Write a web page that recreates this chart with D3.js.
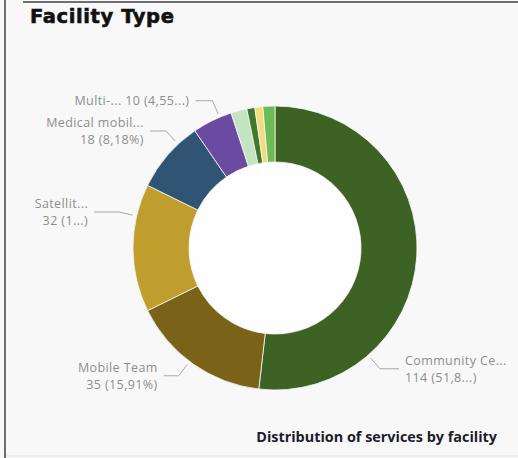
<!DOCTYPE html>
<html>
<head>
<meta charset="utf-8">
<script src="https://cdn.jsdelivr.net/npm/d3@7"></script>
<style>
  html, body { margin: 0; padding: 0; background: #f8f8f8; }
  svg { display: block; }
</style>
</head>
<body>
<svg id="chart" width="518" height="458"></svg>
<script>
// Services by facility type
const categories = [
  "Community Centre", "Mobile Team", "Satellite Clinic", "Medical mobile unit",
  "Multi-purpose Centre", "Health Post", "Outreach Site", "School", "Home Visit"
];
const values = [114, 35, 32, 18, 10, 4, 2, 2, 3];
const colors = [
  "#3d6324", "#7a6318", "#bf9e2e", "#2f5474",
  "#6b4aa2", "#c4e3c1", "#3f7a2c", "#f2dc7e", "#6cbb55"
];
// Names as shown beside the ring (long names are clipped)
const labelNames = ["Community Ce...", "Mobile Team", "Satellit...", "Medical mobil...", "Multi-..."];
// Characters kept from the "value (percent)" text before the ellipsis; null keeps it whole
const valueKeep = [9, null, 5, null, 8];

// Label placement: attach angle on the ring (degrees, clockwise from top), horizontal leader length
const labelLayout = [
  { angle: 139, hlen: 19, single: false },
  { angle: 217, hlen: 15, single: false },
  { angle: 283, hlen: 25, single: false },
  { angle: 317, hlen: 16, single: false },
  { angle: 337, hlen: 17, single: true }
];

const svg = d3.select("#chart");
const W = 518, H = 458;
const cx = 275, cy = 248, rOuter = 142, rInner = 86;

// Panel frame
svg.append("rect").attr("x", 0).attr("y", 0).attr("width", W).attr("height", H).attr("fill", "#f8f8f8");
svg.append("line").attr("x1", 5).attr("x2", 5).attr("y1", 0).attr("y2", H)
  .attr("stroke", "#6e6e6e").attr("stroke-width", 2);
svg.append("line").attr("x1", 23).attr("x2", W).attr("y1", 2).attr("y2", 2)
  .attr("stroke", "#6e6e6e").attr("stroke-width", 2);
svg.append("line").attr("x1", 6).attr("x2", W).attr("y1", 456).attr("y2", 456)
  .attr("stroke", "#e2e2e2").attr("stroke-width", 1);

// Title
svg.append("text")
  .attr("x", 30).attr("y", 23)
  .attr("font-family", "'DejaVu Sans', sans-serif")
  .attr("font-weight", "bold")
  .attr("font-size", 19.5)
  .attr("letter-spacing", 0.6)
  .attr("fill", "#111")
  .attr("stroke", "#111")
  .attr("stroke-width", 0.6)
  .text("Facility Type");

const total = d3.sum(values);
const pie = d3.pie().sort(null).value(d => d)(values);
const arc = d3.arc().innerRadius(rInner).outerRadius(rOuter);

const g = svg.append("g").attr("transform", `translate(${cx},${cy})`);
g.append("circle").attr("r", rInner).attr("fill", "#fefefe");
g.selectAll("path.slice")
  .data(pie)
  .join("path")
  .attr("class", "slice")
  .attr("d", arc)
  .attr("fill", (d, i) => colors[i])
  .attr("stroke", "#f8f8f8")
  .attr("stroke-width", 0.8);

// Data labels with leader lines
const pctText = v => (v / total * 100).toFixed(2).replace(".", ",") + "%";
const polar = (deg, r) => {
  const a = deg * Math.PI / 180;
  return [cx + r * Math.sin(a), cy - r * Math.cos(a)];
};

const labelFont = "'Open Sans', 'Segoe UI', sans-serif";
labelLayout.forEach((L, i) => {
  const p0 = polar(L.angle, rOuter + 4);
  const p1 = polar(L.angle, rOuter + 18);
  const right = p1[0] > cx;
  const p2 = [p1[0] + (right ? L.hlen : -L.hlen), p1[1]];
  svg.append("polyline")
    .attr("points", [p0, p1, p2].map(p => p.join(",")).join(" "))
    .attr("fill", "none")
    .attr("stroke", "#a9a9a9")
    .attr("stroke-width", 1);

  let vt = `${values[i]} (${pctText(values[i])})`;
  if (valueKeep[i] !== null) vt = vt.slice(0, valueKeep[i]) + "...)";
  const tx = p2[0] + (right ? 6 : -6);
  const anchor = right ? "start" : "end";
  const lines = L.single ? [[labelNames[i] + " " + vt, 0]] : [[labelNames[i], -8.7], [vt, 8.7]];
  lines.forEach(([t, dy]) => {
    svg.append("text")
      .attr("x", tx).attr("y", p2[1] + dy)
      .attr("dominant-baseline", "central")
      .attr("text-anchor", anchor)
      .attr("font-family", labelFont)
      .attr("font-size", 12.5)
      .attr("letter-spacing", 0.4)
      .attr("fill", "#8e8e8e")
      .text(t);
  });
});

// Footer caption
svg.append("text")
  .attr("x", 497).attr("y", 442)
  .attr("text-anchor", "end")
  .attr("font-family", labelFont)
  .attr("font-weight", "bold")
  .attr("font-size", 14.4)
  .attr("fill", "#1c1c2a")
  .text("Distribution of services by facility");
</script>
</body>
</html>
